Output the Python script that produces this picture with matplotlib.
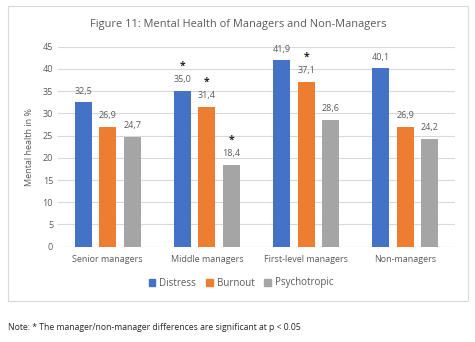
import matplotlib.pyplot as plt
import matplotlib.patches as mpatches
import numpy as np

plt.rcParams['font.family'] = ['Open Sans', 'DejaVu Sans']

categories = ['Senior managers', 'Middle managers', 'First-level managers', 'Non-managers']
distress = [32.5, 35.0, 41.9, 40.1]
burnout = [26.9, 31.4, 37.1, 26.9]
psychotropic = [24.7, 18.4, 28.6, 24.2]
# significance markers (1 = marked with *)
sig_distress = [0, 1, 0, 0]
sig_burnout = [0, 1, 1, 0]
sig_psychotropic = [0, 1, 0, 0]

series = [('Distress', distress, sig_distress, '#4472C4'),
          ('Burnout', burnout, sig_burnout, '#ED7D31'),
          ('Psychotropic', psychotropic, sig_psychotropic, '#A5A5A5')]

txt = '#595959'
fig = plt.figure(figsize=(4.75, 3.42), dpi=100)

# outer chart border
fig.patches.append(mpatches.Rectangle((8 / 475, 1 - 301 / 342), 460 / 475, 295 / 342,
                                      transform=fig.transFigure, fill=False,
                                      edgecolor='#d9d9d9', linewidth=0.8))

ax = fig.add_axes([58 / 475, 1 - 246.7 / 342, 397 / 475, 200 / 342])
x = np.arange(len(categories))
offsets = [-0.247, 0, 0.247]
w = 0.17
for (name, vals, sig, col), off in zip(series, offsets):
    bars = ax.bar(x + off, vals, w, color=col, label=name, zorder=2)
    for xi, v, s in zip(x + off, vals, sig):
        ax.text(xi, v + 1.5, f'{v:.1f}'.replace('.', ','), ha='center', va='bottom',
                fontsize=6.5, color=txt)
        if s:
            ax.text(xi, v + 4.3, '*', ha='center', va='bottom', fontsize=7.5,
                    color='#262626', fontweight='bold')

ax.set_xlim(-0.5, 3.5)
ax.set_ylim(0, 45)
ax.set_yticks(range(0, 46, 5))
ax.set_xticks(x)
ax.set_xticklabels(categories)
ax.tick_params(axis='both', length=0, labelsize=6.5, colors=txt)
ax.tick_params(axis='x', pad=6)
ax.grid(axis='y', color='#d9d9d9', linewidth=0.8, zorder=0)
for s in ax.spines.values():
    s.set_visible(False)
ax.axhline(0, color='#d9d9d9', linewidth=0.8, zorder=1)
ax.set_ylabel('Mental health in %', fontsize=6.5, color=txt, labelpad=6)

fig.text(238 / 475, 1 - 24 / 342, 'Figure 11: Mental Health of Managers and Non-Managers',
         ha='center', va='center', fontsize=7.9, color=txt)

handles = [mpatches.Patch(color=c, label=n) for n, _, _, c in series]
fig.legend(handles=handles, loc='center', bbox_to_anchor=(241 / 475, 1 - 283 / 342),
           ncol=3, frameon=False, fontsize=7, labelcolor=txt, handlelength=0.7,
           handleheight=0.7, handletextpad=0.4, columnspacing=1.0)

fig.text(8 / 475, 1 - 327 / 342,
         'Note: * The manager/non-manager differences are significant at p < 0.05',
         ha='left', va='center', fontsize=6.2, color='#262626')

fig.savefig('out.png', dpi=100)
